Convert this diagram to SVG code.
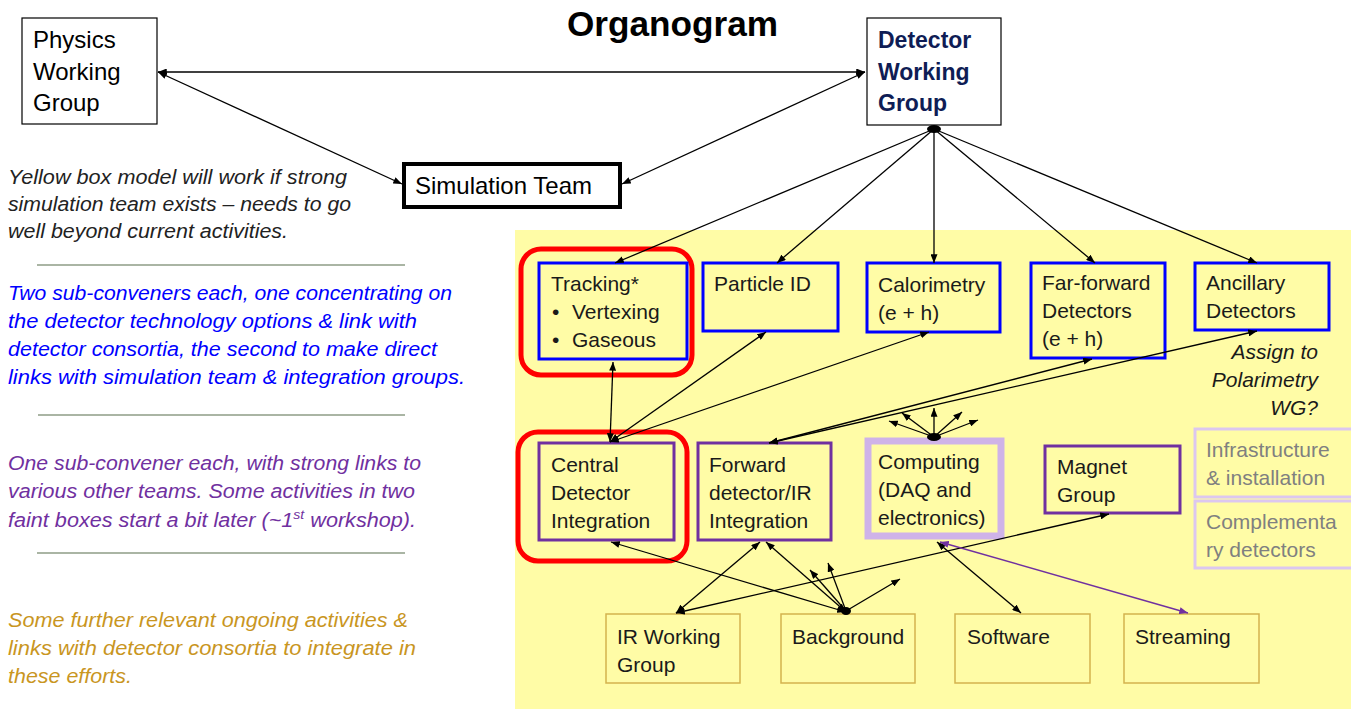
<svg xmlns="http://www.w3.org/2000/svg" width="1351" height="709" viewBox="0 0 1351 709">
<defs>
<marker id="ah" viewBox="0 0 10 8" refX="10" refY="4" markerWidth="9" markerHeight="7" markerUnits="userSpaceOnUse" orient="auto-start-reverse"><path d="M0,0 L10,4 L0,8 z" fill="#000"/></marker>
<marker id="ahp" viewBox="0 0 10 8" refX="10" refY="4" markerWidth="9" markerHeight="7" markerUnits="userSpaceOnUse" orient="auto-start-reverse"><path d="M0,0 L10,4 L0,8 z" fill="#7030a0"/></marker>
<style>
text{font-family:"Liberation Sans",Arial,sans-serif;}
.lbl{font-size:21px;fill:#1a1a1a;}
.top{font-size:24px;fill:#000;}
.dwg{font-size:23px;font-weight:bold;fill:#0f1d55;}
.note{font-size:20px;font-style:italic;}
.blue{stroke:#0000ff;stroke-width:3;fill:none;}
.purp{stroke:#7030a0;stroke-width:3;fill:none;}
.gold{stroke:#d4b24e;stroke-width:1.5;fill:none;}
.faint{stroke:#dcc7ef;stroke-width:3;fill:none;}
.redr{stroke:#ff0000;stroke-width:5;fill:none;}
.c{stroke:#000;stroke-width:1.3;fill:none;}
.bi{marker-start:url(#ah);marker-end:url(#ah);}
.one{marker-end:url(#ah);}
.sep{stroke:#8e9d86;stroke-width:1.5;}
.grey{fill:#808080;}
</style>
</defs>
<rect width="1351" height="709" fill="#ffffff"/>
<rect x="515" y="230" width="836" height="479" fill="#fffca6"/>

<text x="567" y="36" font-size="35" font-weight="bold" fill="#000" textLength="211" lengthAdjust="spacingAndGlyphs">Organogram</text>

<g id="left-notes">
<text class="note" fill="#222" x="8" y="184" textLength="339" lengthAdjust="spacingAndGlyphs">Yellow box model will work if strong</text>
<text class="note" fill="#222" x="8" y="211" textLength="343" lengthAdjust="spacingAndGlyphs">simulation team exists – needs to go</text>
<text class="note" fill="#222" x="8" y="238" textLength="280" lengthAdjust="spacingAndGlyphs">well beyond current activities.</text>
<line class="sep" x1="37" y1="265" x2="405" y2="265"/>
<text class="note" fill="#0000ff" x="8" y="300" textLength="444" lengthAdjust="spacingAndGlyphs">Two sub-conveners each, one concentrating on</text>
<text class="note" fill="#0000ff" x="8" y="328" textLength="409" lengthAdjust="spacingAndGlyphs">the detector technology options &amp; link with</text>
<text class="note" fill="#0000ff" x="8" y="356" textLength="429" lengthAdjust="spacingAndGlyphs">detector consortia, the second to make direct</text>
<text class="note" fill="#0000ff" x="8" y="384" textLength="457" lengthAdjust="spacingAndGlyphs">links with simulation team &amp; integration groups.</text>
<line class="sep" x1="38" y1="415" x2="405" y2="415"/>
<text class="note" fill="#7030a0" x="8" y="470" textLength="413" lengthAdjust="spacingAndGlyphs">One sub-convener each, with strong links to</text>
<text class="note" fill="#7030a0" x="8" y="498" textLength="407" lengthAdjust="spacingAndGlyphs">various other teams. Some activities in two</text>
<text class="note" fill="#7030a0" x="8" y="527" textLength="408" lengthAdjust="spacingAndGlyphs">faint boxes start a bit later (~1<tspan font-size="13" dy="-8">st</tspan><tspan dy="8"> workshop).</tspan></text>
<line class="sep" x1="37" y1="553" x2="405" y2="553"/>
<text class="note" fill="#c9961f" x="8" y="627" textLength="400" lengthAdjust="spacingAndGlyphs">Some further relevant ongoing activities &amp;</text>
<text class="note" fill="#c9961f" x="8" y="655" textLength="408" lengthAdjust="spacingAndGlyphs">links with detector consortia to integrate in</text>
<text class="note" fill="#c9961f" x="8" y="683" textLength="124" lengthAdjust="spacingAndGlyphs">these efforts.</text>
</g>

<g id="physics-wg">
<rect x="22" y="18" width="135" height="106" fill="#fff" stroke="#000" stroke-width="1.2"/>
<text class="top" x="33" y="48">Physics</text>
<text class="top" x="33" y="80">Working</text>
<text class="top" x="33" y="111">Group</text>
</g>

<g id="detector-wg">
<rect x="867" y="18" width="134" height="107" fill="#fff" stroke="#000" stroke-width="1.2"/>
<text class="dwg" x="878" y="48">Detector</text>
<text class="dwg" x="878" y="80">Working</text>
<text class="dwg" x="878" y="111">Group</text>
</g>

<g id="simulation-team">
<rect x="404" y="164" width="216" height="43" fill="#fff" stroke="#000" stroke-width="4"/>
<text class="top" x="415" y="194" font-size="23" textLength="177" lengthAdjust="spacingAndGlyphs">Simulation Team</text>
</g>

<g id="tracking">
<rect class="redr" x="521" y="249" width="171" height="126" rx="20"/>
<rect class="blue" x="539" y="263" width="148" height="96"/>
<text class="lbl" x="551" y="291">Tracking*</text>
<text class="lbl" x="552" y="319">•</text><text class="lbl" x="572" y="319">Vertexing</text>
<text class="lbl" x="552" y="347">•</text><text class="lbl" x="572" y="347">Gaseous</text>
</g>
<g id="particle-id">
<rect class="blue" x="703" y="263" width="135" height="68"/>
<text class="lbl" x="714" y="291">Particle ID</text>
</g>
<g id="calorimetry">
<rect class="blue" x="867" y="263" width="133" height="69"/>
<text class="lbl" x="878" y="292">Calorimetry</text>
<text class="lbl" x="878" y="320">(e + h)</text>
</g>
<g id="far-forward">
<rect class="blue" x="1031" y="263" width="134" height="95"/>
<text class="lbl" x="1042" y="290">Far-forward</text>
<text class="lbl" x="1042" y="318">Detectors</text>
<text class="lbl" x="1042" y="346">(e + h)</text>
</g>
<g id="ancillary">
<rect class="blue" x="1195" y="263" width="134" height="67"/>
<text class="lbl" x="1206" y="290">Ancillary</text>
<text class="lbl" x="1206" y="318">Detectors</text>
</g>
<g id="assign-note">
<text class="lbl" font-style="italic" text-anchor="end" x="1318" y="359">Assign to</text>
<text class="lbl" font-style="italic" text-anchor="end" x="1318" y="387">Polarimetry</text>
<text class="lbl" font-style="italic" text-anchor="end" x="1318" y="415">WG?</text>
</g>

<g id="central-integration">
<rect class="redr" x="518" y="432" width="169" height="129" rx="20"/>
<rect class="purp" x="539" y="443" width="135" height="97"/>
<text class="lbl" x="551" y="472">Central</text>
<text class="lbl" x="551" y="500">Detector</text>
<text class="lbl" x="551" y="528">Integration</text>
</g>
<g id="forward-integration">
<rect class="purp" x="698" y="443" width="133" height="97"/>
<text class="lbl" x="709" y="472">Forward</text>
<text class="lbl" x="709" y="500">detector/IR</text>
<text class="lbl" x="709" y="528">Integration</text>
</g>
<g id="computing">
<rect x="868" y="441" width="133" height="95" fill="none" stroke="#cfb3e8" stroke-width="7"/>
<text class="lbl" x="878" y="469">Computing</text>
<text class="lbl" x="878" y="497">(DAQ and</text>
<text class="lbl" x="878" y="525">electronics)</text>
</g>
<g id="magnet">
<rect class="purp" x="1045" y="446" width="135" height="67"/>
<text class="lbl" x="1057" y="474">Magnet</text>
<text class="lbl" x="1057" y="502">Group</text>
</g>
<g id="infrastructure">
<rect class="faint" x="1195" y="429" width="160" height="68"/>
<text class="lbl grey" x="1206" y="457">Infrastructure</text>
<text class="lbl grey" x="1206" y="485">&amp; installation</text>
</g>
<g id="complementary">
<rect class="faint" x="1195" y="501" width="160" height="67"/>
<text class="lbl grey" x="1206" y="529">Complementa</text>
<text class="lbl grey" x="1206" y="557">ry detectors</text>
</g>

<g id="ir-wg">
<rect class="gold" x="606" y="614" width="134" height="69"/>
<text class="lbl" x="617" y="644">IR Working</text>
<text class="lbl" x="617" y="672">Group</text>
</g>
<g id="background">
<rect class="gold" x="781" y="614" width="134" height="69"/>
<text class="lbl" x="792" y="644">Background</text>
</g>
<g id="software">
<rect class="gold" x="955" y="614" width="135" height="69"/>
<text class="lbl" x="967" y="644">Software</text>
</g>
<g id="streaming">
<rect class="gold" x="1124" y="614" width="135" height="69"/>
<text class="lbl" x="1135" y="644">Streaming</text>
</g>

<g id="connectors">
<line class="c bi" x1="158" y1="72" x2="865" y2="72"/>
<line class="c bi" x1="158" y1="72" x2="402" y2="184"/>
<line class="c bi" x1="865" y1="72" x2="622" y2="184"/>
<ellipse cx="934" cy="129" rx="7" ry="4" fill="#000"/>
<line class="c one" x1="934" y1="129" x2="615" y2="263"/>
<line class="c one" x1="934" y1="129" x2="777" y2="263"/>
<line class="c one" x1="934" y1="129" x2="934" y2="263"/>
<line class="c one" x1="934" y1="129" x2="1095" y2="263"/>
<line class="c one" x1="934" y1="129" x2="1257" y2="263"/>

<line class="c bi" x1="610" y1="442" x2="613" y2="362"/>
<line class="c bi" x1="610" y1="442" x2="766" y2="332"/>
<line class="c bi" x1="610" y1="442" x2="929" y2="332"/>
<line class="c bi" x1="769" y1="443" x2="1092" y2="359"/>
<line class="c bi" x1="769" y1="443" x2="1257" y2="331"/>

<ellipse cx="934" cy="437" rx="7" ry="4" fill="#000"/>
<line class="c one" x1="934" y1="437" x2="889" y2="421"/>
<line class="c one" x1="934" y1="437" x2="902" y2="413"/>
<line class="c one" x1="934" y1="437" x2="934" y2="408"/>
<line class="c one" x1="934" y1="437" x2="962" y2="412"/>
<line class="c one" x1="934" y1="437" x2="978" y2="420"/>

<line class="c bi" x1="611" y1="542" x2="846" y2="612"/>
<line class="c bi" x1="760" y1="542" x2="676" y2="613"/>
<line class="c bi" x1="766" y1="542" x2="846" y2="612"/>
<ellipse cx="846" cy="611" rx="5" ry="4" fill="#000"/>
<line class="c one" x1="846" y1="611" x2="810" y2="570"/>
<line class="c one" x1="846" y1="611" x2="828" y2="563"/>
<line class="c one" x1="846" y1="611" x2="900" y2="579"/>
<line class="c bi" x1="676" y1="613" x2="1109" y2="514"/>
<line class="c bi" x1="937" y1="542" x2="1021" y2="613"/>
<line x1="940" y1="542" x2="1188" y2="613" stroke="#7030a0" stroke-width="1.5" marker-start="url(#ahp)" marker-end="url(#ahp)"/>
</g>
</svg>
